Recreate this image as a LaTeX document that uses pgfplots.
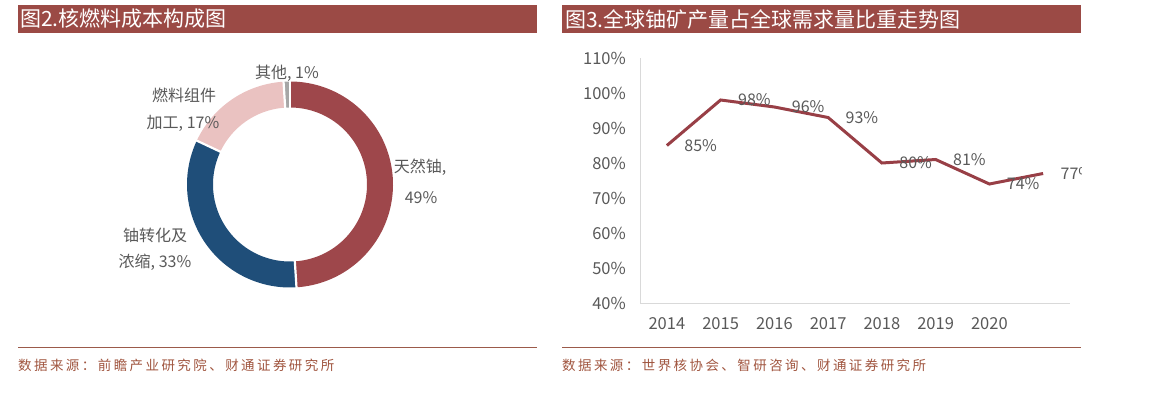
\documentclass[border=0pt]{standalone}
\usepackage{fontspec}
\usepackage{pgfplots}
\pgfplotsset{compat=1.18}
\setmainfont{Noto Sans CJK SC}
\newfontfamily\srcfam[LetterSpace=18]{Noto Sans CJK SC}
\definecolor{barred}{HTML}{9B4A45}
\definecolor{linered}{HTML}{983F46}
\definecolor{cA}{HTML}{9E474B}
\definecolor{cB}{HTML}{1F4E79}
\definecolor{cC}{HTML}{EAC2C1}
\definecolor{cD}{HTML}{A6A6A6}
\definecolor{lab}{HTML}{595959}
\definecolor{axl}{HTML}{D9D9D9}
\definecolor{srccol}{HTML}{A0553F}
\definecolor{srcrule}{HTML}{9B5A4A}
\begin{document}
\begin{tikzpicture}
\path (0pt,0pt) rectangle (1153pt,399pt);
% line chart
\begin{axis}[at={(640pt,96pt)},anchor=south west,scale only axis,width=430pt,height=245pt,
  xmin=-0.5,xmax=7.5,ymin=40,ymax=110,
  axis lines*=left,axis line style={draw=axl,line width=1pt},
  tick style={draw=none},
  ytick={40,50,60,70,80,90,100,110},
  yticklabels={40\%,50\%,60\%,70\%,80\%,90\%,100\%,110\%},
  xtick={0,1,2,3,4,5,6},
  xticklabels={2014,2015,2016,2017,2018,2019,2020},
  tick label style={text=lab,font=\fontsize{16.5}{19}\selectfont,inner sep=0pt},
  yticklabel style={xshift=-14pt},
  xticklabel style={yshift=-14pt},
  clip=false]
\addplot[linered,line width=3pt,no markers,
  point meta=explicit symbolic,
  nodes near coords,
  nodes near coords style={anchor=west,xshift=16pt,text=lab,font=\fontsize{16}{19}\selectfont,inner sep=0}]
  coordinates {(0,85)[85\%] (1,98)[98\%] (2,96)[96\%] (3,93)[93\%] (4,80)[80\%] (5,81)[81\%] (6,74)[74\%] (7,77)[77\%]};
\end{axis}
% donut
\def\pA{49}\def\pB{33}\def\pC{17}\def\pD{1}
\pgfmathsetmacro\aA{90}
\pgfmathsetmacro\aB{\aA-3.6*\pA}
\pgfmathsetmacro\aC{\aB-3.6*\pB}
\pgfmathsetmacro\aD{\aC-3.6*\pC}
\pgfmathsetmacro\aE{\aD-3.6*\pD}
\begin{axis}[at={(140pt,64.5pt)},anchor=south west,scale only axis,width=300pt,height=300pt,
  xmin=-150,xmax=150,ymin=-150,ymax=150,hide axis,clip=false]
\addplot[no markers,line width=26pt,draw=cA,domain=\aB:\aA,samples=120] ({90*cos(x)},{90*sin(x)});
\addplot[no markers,line width=26pt,draw=cB,domain=\aC:\aB,samples=100] ({90*cos(x)},{90*sin(x)});
\addplot[no markers,line width=26pt,draw=cC,domain=\aD:\aC,samples=60] ({90*cos(x)},{90*sin(x)});
\addplot[no markers,line width=26pt,draw=cD,domain=\aE:\aD,samples=10] ({90*cos(x)},{90*sin(x)});
\foreach \ang in {\aA,\aB,\aC,\aD}{
  \addplot[no markers,white,line width=2.2pt,domain=74:106,samples=2] ({x*cos(\ang)},{x*sin(\ang)});
}
\end{axis}
\begin{scope}[x=1pt,y=1pt]
\fill[white] (1082,120) rectangle (1153,320);
% title bars
\fill[barred] (18,366) rectangle (537,394);
\fill[barred] (562,366) rectangle (1081,394);
\node[anchor=west,inner sep=0,text=white,font=\fontsize{21}{24}\selectfont] at (20,380) {图2.核燃料成本构成图};
\node[anchor=west,inner sep=0,text=white,font=\fontsize{21}{24}\selectfont] at (565,380) {图3.全球铀矿产量占全球需求量比重走势图};
% source
\draw[srcrule,line width=1pt] (18,52) -- (537,52);
\draw[srcrule,line width=1pt] (562,52) -- (1081,52);
\node[anchor=west,inner sep=0,text=srccol,font=\srcfam\fontsize{13.5}{16}\selectfont] at (18,34) {数据来源：前瞻产业研究院、财通证券研究所};
\node[anchor=west,inner sep=0,text=srccol,font=\srcfam\fontsize{13.5}{16}\selectfont] at (562,34) {数据来源：世界核协会、智研咨询、财通证券研究所};
\begin{scope}[every node/.style={text=lab,font=\fontsize{16}{19}\selectfont,inner sep=0}]
\node at (287,326) {其他, 1\%};
\node at (184,304) {燃料组件};
\node at (183,276) {加工, 17\%};
\node at (420,232) {天然铀,};
\node at (421,201) {49\%};
\node at (155,164) {铀转化及};
\node at (155,137) {浓缩, 33\%};
\end{scope}
\end{scope}
\end{tikzpicture}
\end{document}
